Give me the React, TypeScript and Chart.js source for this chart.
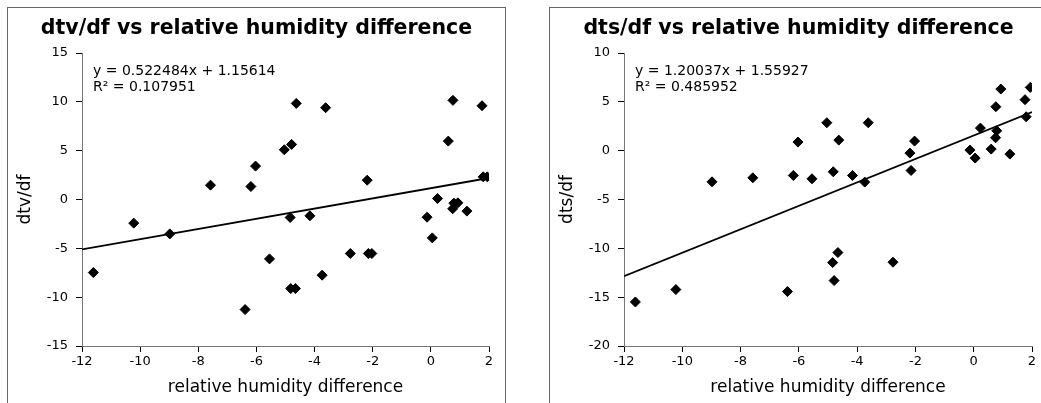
import React, { useEffect, useRef } from 'react';
import { Chart, registerables } from 'chart.js';

Chart.register(...registerables);

const FONT = "'DejaVu Sans', sans-serif";

// shared x values: relative humidity difference
const humidityDiff = [
  -11.61, -10.22, -8.98, -7.58, -6.39, -6.19, -6.03, -5.55, -5.04, -4.84, -4.82,
  -4.79, -4.66, -4.63, -4.16, -3.74, -3.62, -2.77, -2.19, -2.15, -2.03, -0.13,
  0.05, 0.23, 0.6, 0.75, 0.76, 0.79, 0.93, 1.24, 1.76, 1.8, 1.94,
];

const dtvValues = [
  -7.48, -2.42, -3.52, 1.47, -11.27, 1.33, 3.42, -6.08, 5.09, -1.84, -9.12,
  5.64, -9.12, 9.84, -1.67, -7.75, 9.4, -5.53, 1.98, -5.53, -5.53, -1.81,
  -3.93, 0.1, 5.98, -0.95, 10.15, -0.37, -0.34, -1.19, 9.6, 2.32, 2.32,
];

const dtsValues = [
  -15.49, -14.22, -3.19, -2.78, -14.43, -2.54, 0.88, -2.88, 2.86, -11.46, -2.16,
  -13.3, -10.43, 1.08, -2.54, -3.22, 2.86, -11.42, -0.25, -2.03, 0.98, 0.06,
  -0.76, 2.31, 0.16, 1.32, 4.5, 2.04, 6.31, -0.35, 5.22, 3.47, 6.48,
];

const xMin = -12;
const xMax = 2;

const dtvSlope = 0.522484;
const dtvIntercept = 1.15614;
const dtvEquation = 'y = 0.522484x + 1.15614';
const dtvR2 = 'R² = 0.107951';

const dtsSlope = 1.20037;
const dtsIntercept = 1.55927;
const dtsEquation = 'y = 1.20037x + 1.55927';
const dtsR2 = 'R² = 0.485952';

const CANVAS_W = 497;
const CANVAS_H = 395;

type PanelProps = {
  left: number;
  title: string;
  yLabel: string;
  values: number[];
  yMin: number;
  yMax: number;
  slope: number;
  intercept: number;
  eq: string;
  r2: string;
  rightPad: number;
};

function Panel(props: PanelProps) {
  const ref = useRef<HTMLCanvasElement>(null);
  useEffect(() => {
    const canvas = ref.current!;
    const points = humidityDiff.map((x, i) => ({ x, y: props.values[i] }));
    const fitLine = [xMin, xMax].map((x) => ({ x, y: props.slope * x + props.intercept }));
    const textPlugin = {
      id: 'panelText',
      afterDatasetsDraw(chart: any) {
        const { ctx, chartArea } = chart;
        ctx.save();
        ctx.fillStyle = '#000';
        ctx.textBaseline = 'alphabetic';
        ctx.textAlign = 'center';
        ctx.font = `bold 20.5px ${FONT}`;
        ctx.fillText(props.title, chart.width / 2, 25.5);
        ctx.textAlign = 'left';
        ctx.font = `14px ${FONT}`;
        ctx.fillText(props.eq, chartArea.left + 11, chartArea.top + 22);
        ctx.fillText(props.r2, chartArea.left + 11, chartArea.top + 37.5);
        ctx.restore();
      },
    };
    const chart = new Chart(canvas, {
      type: 'scatter',
      data: {
        datasets: [
          {
            data: points,
            pointStyle: 'rectRot',
            pointRadius: 5,
            backgroundColor: '#000',
            borderColor: '#000',
            borderWidth: 1,
            showLine: false,
          },
          {
            type: 'line',
            data: fitLine,
            borderColor: '#000',
            borderWidth: 1.8,
            pointRadius: 0,
            fill: false,
            showLine: true,
          } as any,
        ],
      },
      options: {
        animation: false,
        responsive: false,
        events: [],
        layout: { padding: { left: 0, right: props.rightPad, top: 45, bottom: 0 } },
        plugins: {
          legend: { display: false },
          tooltip: { enabled: false },
          title: { display: false },
        },
        scales: {
          x: {
            type: 'linear',
            min: xMin,
            max: xMax,
            ticks: { stepSize: 2, color: '#000', font: { size: 13, family: FONT }, padding: 2 },
            grid: { drawOnChartArea: false, drawTicks: true, tickLength: 6, tickColor: '#000' },
            border: { color: '#777', width: 1 },
            title: {
              display: true,
              text: 'relative humidity difference',
              color: '#000',
              font: { size: 17, family: FONT },
              padding: { top: 0, bottom: 5 },
            },
            afterFit: (s: any) => {
              s.height = 57;
            },
          },
          y: {
            type: 'linear',
            min: props.yMin,
            max: props.yMax,
            ticks: { stepSize: 5, color: '#000', font: { size: 13, family: FONT }, padding: 8 },
            grid: { drawOnChartArea: false, drawTicks: true, tickLength: 6, tickColor: '#000' },
            border: { color: '#777', width: 1 },
            title: {
              display: true,
              text: props.yLabel,
              color: '#000',
              font: { size: 17, family: FONT },
              padding: { top: 7, bottom: 0 },
            },
            afterFit: (s: any) => {
              s.width = 74;
            },
          },
        },
      } as any,
      plugins: [textPlugin],
    });
    return () => chart.destroy();
  }, []);

  return (
    <div
      style={{
        position: 'absolute',
        left: props.left,
        top: 7,
        width: 499,
        height: 400,
        border: '1px solid #666',
        boxSizing: 'border-box',
        background: '#fff',
      }}
    >
      <canvas
        ref={ref}
        width={CANVAS_W}
        height={CANVAS_H}
        style={{ position: 'absolute', left: 0, top: 0, width: CANVAS_W, height: CANVAS_H }}
      />
    </div>
  );
}

export default function App() {
  return (
    <div style={{ position: 'fixed', inset: 0, overflow: 'hidden', background: '#fff' }}>
      <Panel
        left={7}
        title="dtv/df vs relative humidity difference"
        yLabel="dtv/df"
        values={dtvValues}
        yMin={-15}
        yMax={15}
        slope={dtvSlope}
        intercept={dtvIntercept}
        eq={dtvEquation}
        r2={dtvR2}
        rightPad={16}
      />
      <Panel
        left={549}
        title="dts/df vs relative humidity difference"
        yLabel="dts/df"
        values={dtsValues}
        yMin={-20}
        yMax={10}
        slope={dtsSlope}
        intercept={dtsIntercept}
        eq={dtsEquation}
        r2={dtsR2}
        rightPad={15}
      />
    </div>
  );
}
